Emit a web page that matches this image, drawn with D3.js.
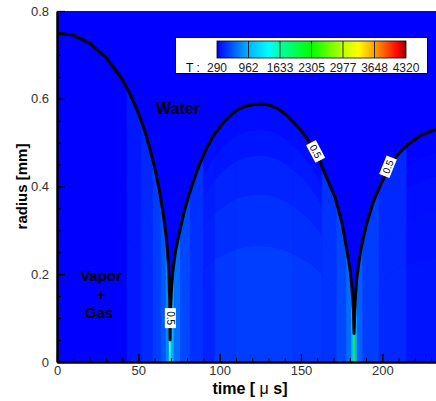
<!DOCTYPE html>
<html>
<head>
<meta charset="utf-8">
<script src="https://cdn.jsdelivr.net/npm/d3@7"></script>
<style>
  body { margin: 0; background: #fff; }
  svg { display: block; }
</style>
</head>
<body>
<div id="chart"></div>
<script>
// bubble radius (void fraction 0.5 contour)
const radiusTime = [0, 10, 20, 30, 40, 45, 50, 55, 60, 63, 65, 67, 68, 68.8, 69.3, 69.5, 69.8, 70.3, 71, 72, 73, 75, 78, 81, 86, 91, 96, 101, 106, 111, 116, 121, 126,
  131, 136, 141, 146, 151, 156, 161, 166, 171, 175, 178, 180, 181.3, 182.2, 182.6, 183, 183.5, 184.3, 185.5, 187, 190, 194, 199, 204, 209, 214, 219, 224, 229, 233];
const radiusVal = [0.75, 0.745, 0.727, 0.695, 0.645, 0.61, 0.568, 0.515, 0.445, 0.39, 0.345, 0.29, 0.25, 0.2, 0.14, 0.05, 0.12, 0.16, 0.2, 0.23, 0.255, 0.29, 0.34, 0.38, 0.435, 0.48, 0.515, 0.54, 0.56, 0.575, 0.583, 0.587, 0.588,
  0.585, 0.577, 0.563, 0.544, 0.523, 0.497, 0.462, 0.418, 0.375, 0.32, 0.26, 0.215, 0.17, 0.12, 0.065, 0.11, 0.15, 0.19, 0.225, 0.26, 0.31, 0.36, 0.405, 0.44, 0.47, 0.49, 0.505, 0.517, 0.525, 0.53];

// temperature inside the bubble: time bins x shells (r/R from centre to wall)
const tempTimeEdges = [0, 43, 52, 59, 64, 67, 68.8, 69.3, 69.8, 70.5, 72, 76, 82, 90, 97, 110, 145, 163, 172, 178, 181, 182.2, 183.2, 184.5, 188, 198, 215, 233];
const tempShellEdges = [0, 0.45, 0.65, 0.8, 0.9, 1.0];
const tempGrid = [
  [290, 290, 290, 290, 290],
  [380, 380, 380, 380, 380],
  [440, 440, 440, 440, 440],
  [520, 520, 520, 520, 520],
  [620, 620, 620, 620, 620],
  [800, 800, 800, 800, 800],
  [1100, 1100, 1100, 1100, 1100],
  [3400, 3400, 3400, 3400, 3400],
  [1300, 1300, 1300, 1300, 1300],
  [950, 950, 950, 950, 950],
  [700, 700, 700, 700, 700],
  [560, 560, 560, 560, 560],
  [470, 470, 470, 470, 470],
  [420, 410, 400, 380, 350],
  [500, 460, 420, 370, 330],
  [520, 470, 420, 370, 330],
  [500, 460, 420, 380, 340],
  [480, 480, 480, 480, 480],
  [560, 560, 560, 560, 560],
  [700, 700, 700, 700, 700],
  [1000, 1000, 1000, 1000, 1000],
  [2400, 2400, 2400, 2400, 2400],
  [1000, 1000, 1000, 1000, 1000],
  [650, 650, 650, 650, 650],
  [520, 520, 520, 520, 520],
  [440, 440, 440, 440, 440],
  [360, 350, 340, 320, 300]
];

// colour legend
const legendTicks = [290, 962, 1633, 2305, 2977, 3648, 4320];
const colorStops = [290, 962, 1400, 1633, 2305, 2977, 3300, 3648, 4150, 4320];
const colorVals = ["#0000ff", "#00b4ff", "#00ffff", "#00ffa0", "#00ff00", "#beff00", "#ffff00", "#ffa000", "#ff0000", "#8c0000"];

// contour labels
const contourLabels = [
  { t: 69.7, r: 0.1, angle: 90 },
  { t: 159, r: 0.48, angle: 62 },
  { t: 203.5, r: 0.445, angle: -68 }
];

const xTicks = [0, 50, 100, 150, 200];
const yTicks = [0, 0.2, 0.4, 0.6, 0.8];

const W = 436, H = 401;
const margin = { top: 11, right: 0, bottom: 39, left: 57 };

const svg = d3.select("#chart").append("svg")
  .attr("width", W).attr("height", H);

const x = d3.scaleLinear().domain([0, 233]).range([margin.left, W - margin.right]);
const y = d3.scaleLinear().domain([0, 0.8]).range([H - margin.bottom, margin.top]);
const R = d3.scaleLinear().domain(radiusTime).range(radiusVal).clamp(true);
const color = d3.scaleLinear().domain(colorStops).range(colorVals).clamp(true);

svg.append("clipPath").attr("id", "plot-clip")
  .append("rect")
  .attr("x", x(0)).attr("y", y(0.8))
  .attr("width", x(233) - x(0)).attr("height", y(0) - y(0.8));

const plot = svg.append("g").attr("clip-path", "url(#plot-clip)");

// water background
plot.append("rect")
  .attr("x", x(0)).attr("y", y(0.8))
  .attr("width", x(233) - x(0)).attr("height", y(0) - y(0.8))
  .attr("fill", color(290));

// temperature cells inside the bubble
const cells = [];
for (let i = 0; i < tempTimeEdges.length - 1; i++) {
  const t0 = tempTimeEdges[i], t1 = tempTimeEdges[i + 1];
  const ts = [t0].concat(radiusTime.filter(t => t > t0 && t < t1), [t1]);
  for (let j = 0; j < tempShellEdges.length - 1; j++) {
    cells.push({ ts, s0: tempShellEdges[j], s1: tempShellEdges[j + 1], T: tempGrid[i][j] });
  }
}

plot.append("g").selectAll("path")
  .data(cells)
  .join("path")
  .attr("d", d => d3.area()
    .x(t => x(t))
    .y0(t => y(d.s0 * R(t)))
    .y1(t => y(d.s1 * R(t)))(d.ts))
  .attr("fill", d => color(d.T))
  .attr("stroke", d => color(d.T))
  .attr("stroke-width", 0.6);

// contour line
plot.append("path")
  .datum(radiusTime)
  .attr("d", d3.line().x(t => x(t)).y((t, i) => y(radiusVal[i])))
  .attr("fill", "none")
  .attr("stroke", "#000")
  .attr("stroke-width", 3)
  .attr("stroke-linejoin", "round");

// contour labels
const cl = plot.append("g").selectAll("g")
  .data(contourLabels)
  .join("g")
  .attr("transform", d => `translate(${x(d.t)},${y(d.r)}) rotate(${d.angle})`);
cl.append("rect")
  .attr("x", -10).attr("y", -5.5).attr("width", 20).attr("height", 11)
  .attr("fill", "#fff");
cl.append("text")
  .attr("text-anchor", "middle").attr("dy", "0.35em")
  .style("font", "10px 'Liberation Sans', Arial, sans-serif")
  .text("0.5");

// region labels
const bold = "bold 16px 'Liberation Sans', Arial, sans-serif";
plot.append("text").attr("x", 178).attr("y", 114)
  .attr("text-anchor", "middle").style("font", bold).text("Water");
const vg = plot.append("text").attr("text-anchor", "middle")
  .style("font", "bold 15px 'Liberation Sans', Arial, sans-serif");
vg.append("tspan").attr("x", 101).attr("y", 281).text("Vapor");
vg.append("tspan").attr("x", 101).attr("y", 300).text("+");
vg.append("tspan").attr("x", 99).attr("y", 318).text("Gas");

// axes
const tickFont = "13px 'Liberation Sans', Arial, sans-serif";
const xAxisMinor = d3.axisBottom(x).tickValues(d3.range(0, 234, 10)).tickSize(-4).tickFormat("");
const xAxis = d3.axisBottom(x).tickValues(xTicks).tickSizeInner(-8).tickSizeOuter(0).tickPadding(4);
const yAxisMinor = d3.axisLeft(y).tickValues(d3.range(0, 0.801, 0.05)).tickSize(-4).tickFormat("");
const yAxis = d3.axisLeft(y).tickValues(yTicks).tickSizeInner(-8).tickSizeOuter(0).tickPadding(8)
  .tickFormat(d => d === 0 ? "0" : d3.format(".1f")(d));

function styleAxis(g) {
  g.select(".domain").attr("stroke-width", 2.5);
  g.selectAll(".tick line").attr("stroke-width", 1.3);
  g.selectAll("text").style("font", tickFont).attr("fill", "#333");
}

svg.append("g").attr("transform", `translate(0,${y(0)})`).call(xAxisMinor).call(g => g.select(".domain").remove());
svg.append("g").attr("transform", `translate(0,${y(0)})`).call(xAxis).call(styleAxis);
svg.append("g").attr("transform", `translate(${x(0)},0)`).call(yAxisMinor).call(g => g.select(".domain").remove());
svg.append("g").attr("transform", `translate(${x(0)},0)`).call(yAxis).call(styleAxis);

// axis titles
const xt = svg.append("text").attr("x", 250).attr("y", 394)
  .attr("text-anchor", "middle").style("font", "bold 16px 'Liberation Sans', Arial, sans-serif");
xt.append("tspan").text("time [ ");
xt.append("tspan").style("font-weight", "normal").text("μ");
xt.append("tspan").text(" s]");

svg.append("text")
  .attr("transform", `translate(27,${(y(0) + y(0.8)) / 2}) rotate(-90)`)
  .attr("text-anchor", "middle")
  .style("font", "bold 15px 'Liberation Sans', Arial, sans-serif")
  .text("radius [mm]");

// legend
const legend = svg.append("g");
legend.append("rect")
  .attr("x", 175.5).attr("y", 37.5).attr("width", 252).attr("height", 36)
  .attr("fill", "#fff").attr("stroke", "#000");

const lx = d3.scaleLinear().domain([290, 4320]).range([217, 406]);
const bandX = d3.scalePoint().domain(legendTicks).range([217, 406]);

const grad = svg.append("defs").append("linearGradient").attr("id", "legend-grad");
grad.selectAll("stop")
  .data(colorStops)
  .join("stop")
  .attr("offset", d => (lx(d) - 217) / (406 - 217))
  .attr("stop-color", d => color(d));

legend.append("rect")
  .attr("x", 217).attr("y", 41).attr("width", 189).attr("height", 17)
  .attr("fill", "url(#legend-grad)").attr("stroke", "#000").attr("stroke-width", 0.8);

legend.selectAll("line.sep")
  .data(legendTicks.slice(1, -1))
  .join("line")
  .attr("x1", d => bandX(d)).attr("x2", d => bandX(d))
  .attr("y1", 41).attr("y2", 58)
  .attr("stroke", "#000").attr("stroke-width", 0.8);

legend.selectAll("text.tick")
  .data(legendTicks)
  .join("text")
  .attr("x", d => bandX(d)).attr("y", 72)
  .attr("text-anchor", "middle")
  .style("font", "12px 'Liberation Sans', Arial, sans-serif")
  .attr("fill", "#222")
  .text(d => d);

legend.append("text").attr("x", 186).attr("y", 72)
  .style("font", "12px 'Liberation Sans', Arial, sans-serif")
  .text("T :");
</script>
</body>
</html>
